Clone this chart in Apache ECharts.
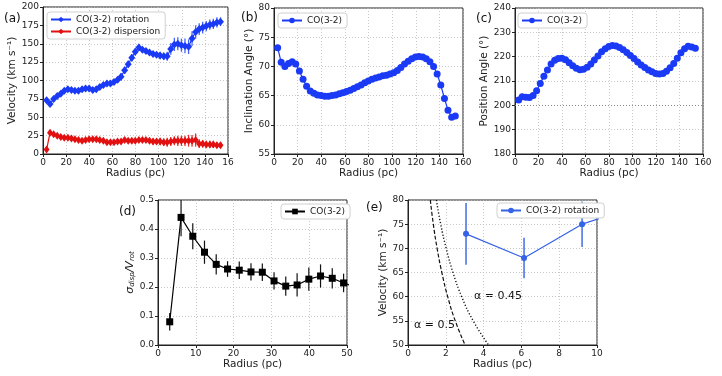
<!DOCTYPE html>
<html>
<head>
<meta charset="utf-8">
<script src="https://cdn.jsdelivr.net/npm/echarts@6/dist/echarts.min.js"></script>
<style>
  html, body { margin: 0; padding: 0; background: #fff; }
  #main { width: 722px; height: 376px; }
</style>
</head>
<body>
<div id="main"></div>
<script>
// radius of the rings (pc), shared by panels a, b, c
var radius = [3.1, 6.1, 9.2, 12.3, 15.4, 18.4, 21.5, 24.6, 27.6, 30.7,
  33.8, 36.8, 39.9, 43.0, 46.1, 49.1, 52.2, 55.3, 58.3, 61.4,
  64.5, 67.5, 70.6, 73.7, 76.8, 79.8, 82.9, 86.0, 89.0, 92.1,
  95.2, 98.2, 101.3, 104.4, 107.4, 110.5, 113.6, 116.6, 119.7, 122.8,
  125.9, 128.9, 132.0, 135.1, 138.1, 141.2, 144.3, 147.3, 150.4, 153.5];

// (a) velocities
var rotation = [73, 68, 75, 79, 82, 86, 88, 87, 86, 86,
  88, 89, 89, 87, 88, 91, 94, 96, 96, 98,
  101, 105, 114, 122, 131, 139, 145, 142, 140, 138,
  136, 135, 134, 133, 133, 143, 149, 150, 148, 147,
  146, 157, 166, 170, 172, 174, 176, 177, 179, 180];
var rotationErr = [4, 3, 3, 3, 3, 3, 3, 3, 3, 3,
  3, 4, 4, 4, 4, 4, 4, 4, 4, 4,
  4, 5, 5, 5, 5, 5, 5, 4, 4, 4,
  4, 4, 5, 5, 6, 8, 9, 9, 9, 10,
  10, 10, 9, 8, 8, 7, 7, 7, 7, 6];
var dispersion = [6, 29, 27, 25, 23, 22, 22, 21, 20, 19,
  18, 19, 20, 20, 20, 19, 18, 16, 16, 16,
  17, 17, 19, 18, 18, 18, 19, 19, 19, 18,
  17, 17, 17, 16, 16, 17, 18, 18, 18, 18,
  18, 18, 19, 14, 14, 13, 13, 13, 12, 12];
var dispersionErr = [3, 3, 3, 3, 3, 3, 3, 3, 3, 3,
  3, 3, 3, 3, 3, 3, 3, 3, 3, 3,
  3, 3, 3, 3, 3, 3, 3, 3, 3, 4,
  4, 4, 5, 5, 6, 6, 6, 7, 7, 7,
  8, 8, 9, 6, 5, 5, 5, 5, 4, 4];

// (b) inclination angle (deg)
var inclination = [73.2, 70.7, 70.0, 70.5, 70.8, 70.4, 69.2, 67.8, 66.6, 65.8,
  65.4, 65.1, 65.0, 64.9, 64.9, 65.0, 65.1, 65.3, 65.5, 65.7,
  65.9, 66.2, 66.5, 66.8, 67.2, 67.5, 67.8, 68.0, 68.2, 68.4,
  68.5, 68.7, 68.9, 69.3, 69.8, 70.4, 70.9, 71.3, 71.6, 71.7,
  71.6, 71.3, 70.8, 70.0, 68.7, 66.8, 64.5, 62.5, 61.3, 61.5];

// (c) position angle (deg)
var positionAngle = [202.2, 203.5, 203.3, 203.2, 204.0, 206.0, 209.0, 212.0, 214.5, 217.0,
  218.5, 219.2, 219.3, 218.7, 217.5, 216.3, 215.2, 214.6, 214.8, 215.6,
  217.0, 218.6, 220.3, 222.0, 223.3, 224.2, 224.6, 224.4, 223.8, 222.8,
  221.7, 220.5, 219.2, 217.8, 216.6, 215.5, 214.5, 213.8, 213.1, 212.9,
  213.1, 214.0, 215.4, 217.2, 219.4, 221.6, 223.3, 224.3, 224.0, 223.5];

// (d) sigma_disp / V_rot
var ratioRadius = [3.1, 6.1, 9.2, 12.3, 15.4, 18.4, 21.5, 24.6, 27.6, 30.7, 33.8, 36.8, 39.9, 43.0, 46.1, 49.1, 52.2];
var ratio = [0.08, 0.44, 0.375, 0.32, 0.278, 0.262, 0.258, 0.252, 0.251, 0.221, 0.203, 0.207, 0.227, 0.238, 0.23, 0.214, 0.20];
var ratioErr = [0.03, 0.065, 0.045, 0.04, 0.035, 0.027, 0.03, 0.03, 0.03, 0.03, 0.033, 0.04, 0.04, 0.04, 0.035, 0.032, 0.03];

// (e) inner rotation points and the two model curves
var innerRadius = [3.07, 6.14, 9.21, 12.28];
var innerRotation = [73, 68, 75, 79];
var innerErr = [6.4, 4.2, 4.7, 5];
var alpha05R = [1.18, 1.34, 1.54, 1.79, 2.10, 2.50, 3.02];
var alpha05V = [80, 75, 70, 65, 60, 55, 50];
var alpha045R = [1.50, 1.73, 2.02, 2.38, 2.84, 3.45, 4.26];
var alpha045V = [80, 75, 70, 65, 60, 55, 50];

var FONT = 'DejaVu Sans';
var BLUE = '#1a3af5';
var RED = '#e21010';
var EBLUE = '#3562e6';

var chart = echarts.init(document.getElementById('main'));

function pairs(xs, ys) {
  return xs.map(function (x, i) { return [x, ys[i]]; });
}

function errorBars(idx, xs, ys, es, color, width) {
  return {
    type: 'custom',
    xAxisIndex: idx,
    yAxisIndex: idx,
    clip: true,
    silent: true,
    z: 1,
    data: xs.map(function (x, i) { return [x, ys[i] - es[i], ys[i] + es[i]]; }),
    renderItem: function (params, api) {
      var p1 = api.coord([api.value(0), api.value(1)]);
      var p2 = api.coord([api.value(0), api.value(2)]);
      return {
        type: 'line',
        shape: { x1: p1[0], y1: p1[1], x2: p2[0], y2: p2[1] },
        style: { stroke: color, lineWidth: width }
      };
    }
  };
}

function xAxis(idx, min, max, step, gap, fmt) {
  return {
    gridIndex: idx, type: 'value', min: min, max: max, interval: step,
    name: 'Radius (pc)', nameLocation: 'middle', nameGap: gap,
    nameTextStyle: { fontFamily: FONT, fontSize: 10.5, color: '#222' },
    axisLine: { show: true, onZero: false, lineStyle: { color: '#222', width: 1 } },
    axisTick: { show: true, inside: false, length: 3, lineStyle: { color: '#222' } },
    axisLabel: { fontFamily: FONT, fontSize: 9, color: '#222', margin: 4, formatter: fmt },
    splitLine: { show: true, lineStyle: { color: '#bbb', type: [1, 2], width: 0.8 } }
  };
}

function yAxis(idx, min, max, step, name, gap, fmt, rich) {
  return {
    gridIndex: idx, type: 'value', min: min, max: max, interval: step,
    name: name, nameLocation: 'middle', nameGap: gap, nameRotate: 90,
    nameTextStyle: { fontFamily: FONT, fontSize: 10.5, color: '#222', rich: rich },
    axisLine: { show: true, onZero: false, lineStyle: { color: '#222', width: 1 } },
    axisTick: { show: true, inside: false, length: 3, lineStyle: { color: '#222' } },
    axisLabel: { fontFamily: FONT, fontSize: 9, color: '#222', margin: 4, formatter: fmt },
    splitLine: { show: true, lineStyle: { color: '#bbb', type: [1, 2], width: 0.8 } }
  };
}

function legend(names, left, top, vertical) {
  return {
    data: names,
    left: left, top: top,
    orient: vertical ? 'vertical' : 'horizontal',
    selectedMode: false,
    backgroundColor: '#fff',
    borderColor: '#d0d0d0', borderWidth: 1, borderRadius: 3,
    padding: [3, 5, 3, 3],
    itemGap: 3, itemWidth: 20, itemHeight: 7,
    textStyle: { fontFamily: FONT, fontSize: 9, color: '#222' },
    formatter: function (name) { return name.split('#')[0]; }
  };
}

function panelLabel(text, x, y) {
  return {
    type: 'text', left: x, top: y,
    style: { text: text, fontFamily: FONT, fontSize: 12, fill: '#111' }
  };
}

var sigmaRich = {
  s: { fontFamily: FONT, fontSize: 11, fontStyle: 'italic', color: '#222' },
  sub: { fontFamily: FONT, fontSize: 7, fontStyle: 'italic', color: '#222', verticalAlign: 'bottom', padding: [4, 0, 0, 0] }
};

chart.setOption({
  backgroundColor: '#fff',
  animation: false,
  grid: [
    { left: 43, top: 7, width: 185, height: 147, show: true, borderColor: '#222', borderWidth: 1 },
    { left: 274, top: 8, width: 189, height: 146, show: true, borderColor: '#222', borderWidth: 1 },
    { left: 515, top: 8, width: 188, height: 146, show: true, borderColor: '#222', borderWidth: 1 },
    { left: 158, top: 200, width: 189, height: 145, show: true, borderColor: '#222', borderWidth: 1 },
    { left: 408, top: 200, width: 189, height: 145, show: true, borderColor: '#222', borderWidth: 1 }
  ],
  xAxis: [
    xAxis(0, 0, 160, 20, 12, function (v) { return v === 160 ? '16' : String(v); }),
    xAxis(1, 0, 160, 20, 12),
    xAxis(2, 0, 160, 20, 12),
    xAxis(3, 0, 50, 10, 13),
    xAxis(4, 0, 10, 2, 13)
  ],
  yAxis: [
    yAxis(0, 0, 200, 25, 'Velocity (km s\u207B\u00B9)', 23),
    yAxis(1, 55, 80, 5, 'Inclination Angle (\u00B0)', 18),
    yAxis(2, 180, 240, 10, 'Position Angle (\u00B0)', 24),
    yAxis(3, 0, 0.5, 0.1, '{s|\u03C3}{sub|disp}{s|/V}{sub|rot}', 20,
      function (v) { return v.toFixed(1); }, sigmaRich),
    yAxis(4, 50, 80, 5, 'Velocity (km s\u207B\u00B9)', 18)
  ],
  legend: [
    legend(['CO(3-2) rotation#a', 'CO(3-2) dispersion#a'], 47, 12, true),
    legend(['CO(3-2)#b'], 278, 13),
    legend(['CO(3-2)#c'], 518, 13),
    legend(['CO(3-2)#d'], 281, 204),
    legend(['CO(3-2) rotation#e'], 497, 203)
  ],
  graphic: [
    panelLabel('(a)', 4, 13),
    panelLabel('(b)', 241, 12),
    panelLabel('(c)', 476, 13),
    panelLabel('(d)', 119, 206),
    panelLabel('(e)', 366, 202),
    { type: 'text', left: 474, top: 291,
      style: { text: '\u03B1 = 0.45', fontFamily: FONT, fontSize: 11, fill: '#111' } },
    { type: 'text', left: 414, top: 320,
      style: { text: '\u03B1 = 0.5', fontFamily: FONT, fontSize: 11, fill: '#111' } }
  ],
  series: [
    // (a)
    errorBars(0, radius, rotation, rotationErr, '#4466ff', 1.3),
    errorBars(0, radius, dispersion, dispersionErr, '#e83030', 1.3),
    {
      name: 'CO(3-2) rotation#a', type: 'line', xAxisIndex: 0, yAxisIndex: 0,
      data: pairs(radius, rotation), symbol: 'diamond', symbolSize: [7, 8],
      itemStyle: { color: BLUE }, lineStyle: { color: BLUE, width: 1.2 }, z: 3
    },
    {
      name: 'CO(3-2) dispersion#a', type: 'line', xAxisIndex: 0, yAxisIndex: 0,
      data: pairs(radius, dispersion), symbol: 'diamond', symbolSize: [6, 8],
      itemStyle: { color: RED }, lineStyle: { color: RED, width: 1.2 }, z: 3
    },
    // (b)
    {
      name: 'CO(3-2)#b', type: 'line', xAxisIndex: 1, yAxisIndex: 1,
      data: pairs(radius, inclination), symbol: 'circle', symbolSize: 7,
      itemStyle: { color: BLUE }, lineStyle: { color: BLUE, width: 1.2 }
    },
    // (c)
    {
      name: 'CO(3-2)#c', type: 'line', xAxisIndex: 2, yAxisIndex: 2,
      data: pairs(radius, positionAngle), symbol: 'circle', symbolSize: 7,
      itemStyle: { color: BLUE }, lineStyle: { color: BLUE, width: 1.2 },
      markLine: {
        silent: true, symbol: 'none', label: { show: false },
        lineStyle: { color: '#888', type: [1, 2], width: 1 },
        data: [{ yAxis: 200 }]
      }
    },
    // (d)
    errorBars(3, ratioRadius, ratio, ratioErr, '#111', 1.2),
    {
      name: 'CO(3-2)#d', type: 'line', xAxisIndex: 3, yAxisIndex: 3,
      data: pairs(ratioRadius, ratio), symbol: 'rect', symbolSize: 7,
      itemStyle: { color: '#000' }, lineStyle: { color: '#000', width: 1.2 }, z: 3
    },
    // (e)
    {
      type: 'line', xAxisIndex: 4, yAxisIndex: 4, silent: true,
      data: pairs(alpha05R, alpha05V), smooth: true, symbol: 'none',
      lineStyle: { color: '#111', width: 1.2, type: [4, 2] }
    },
    {
      type: 'line', xAxisIndex: 4, yAxisIndex: 4, silent: true,
      data: pairs(alpha045R, alpha045V), smooth: true, symbol: 'none',
      lineStyle: { color: '#111', width: 1.4, type: [1.2, 2] }
    },
    errorBars(4, innerRadius, innerRotation, innerErr, EBLUE, 1.4),
    {
      name: 'CO(3-2) rotation#e', type: 'line', xAxisIndex: 4, yAxisIndex: 4,
      data: pairs(innerRadius, innerRotation), symbol: 'circle', symbolSize: 6,
      itemStyle: { color: EBLUE }, lineStyle: { color: EBLUE, width: 1.2 }, z: 3
    }
  ]
});
</script>
</body>
</html>
